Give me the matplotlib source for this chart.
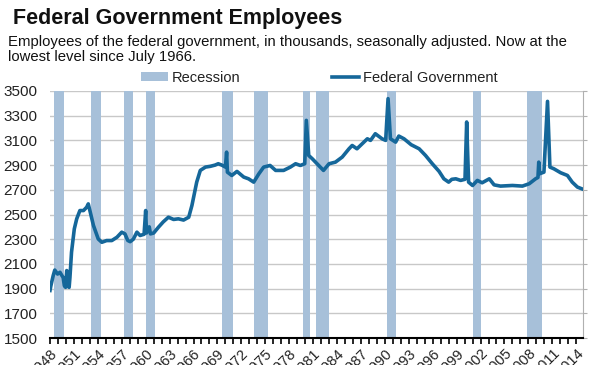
import matplotlib.pyplot as plt
from matplotlib.patches import Patch
from matplotlib.lines import Line2D
from matplotlib.ticker import MultipleLocator

# federal employees, thousands
emp_year = [1948.0, 1948.1, 1948.4, 1948.6, 1948.95, 1949.25, 1949.45, 1949.65, 1949.8, 1949.95,
            1950.1, 1950.2, 1950.4, 1950.5, 1950.7, 1951.05, 1951.35, 1951.75, 1952.2, 1952.6,
            1952.8, 1953.45, 1954.05, 1954.5, 1955.1, 1955.75, 1956.4, 1957.0, 1957.4, 1957.75,
            1958.05, 1958.45, 1958.9, 1959.3, 1959.8, 1960.0, 1960.1, 1960.45, 1960.6, 1961.0,
            1961.6, 1962.2, 1962.85, 1963.5, 1964.1, 1964.75, 1965.4, 1965.8, 1966.4, 1966.85,
            1967.5, 1968.1, 1968.7, 1969.1, 1969.55, 1970.0, 1970.15, 1970.25, 1970.8, 1971.45,
            1972.3, 1972.9, 1973.55, 1974.2, 1974.8, 1975.6, 1976.3, 1977.3, 1978.15, 1978.8,
            1979.4, 1979.95, 1980.15, 1980.45, 1980.9, 1981.5, 1982.3, 1983.0, 1983.8, 1984.65,
            1985.5, 1985.9, 1986.5, 1987.15, 1987.8, 1988.2, 1988.8, 1989.65, 1990.1, 1990.4,
            1990.7, 1991.35, 1991.75, 1992.4, 1993.3, 1994.3, 1995.1, 1995.95, 1996.8, 1997.4,
            1998.0, 1998.4, 1998.9, 1999.5, 2000.05, 2000.26, 2000.5, 2001.0, 2001.6, 2002.2,
            2003.1, 2003.7, 2004.5, 2006.0, 2007.25, 2008.1, 2008.9, 2009.2, 2009.3, 2009.4,
            2009.95, 2010.4, 2010.7, 2011.2, 2012.05, 2012.9, 2013.5, 2014.15, 2014.7]
emp_thousands = [1885, 1920, 2005, 2050, 2018, 2032, 2010, 1990, 1924, 1910,
                 2046, 1920, 1910, 1990, 2195, 2384, 2465, 2532, 2532, 2559,
                 2586, 2411, 2302, 2275, 2289, 2289, 2316, 2357, 2343, 2290,
                 2280, 2300, 2357, 2330, 2340, 2532, 2350, 2400, 2343, 2350,
                 2397, 2440, 2478, 2460, 2465, 2455, 2478, 2573, 2762, 2857,
                 2884, 2890, 2900, 2911, 2900, 2884, 3005, 2843, 2816, 2849,
                 2803, 2789, 2762, 2830, 2884, 2897, 2857, 2857, 2884, 2911,
                 2897, 2911, 3262, 2978, 2951, 2911, 2857, 2911, 2924, 2965,
                 3032, 3059, 3032, 3073, 3113, 3100, 3154, 3113, 3100, 3438,
                 3113, 3086, 3135, 3113, 3065, 3032, 2978, 2911, 2849, 2789,
                 2762, 2785, 2789, 2776, 2785, 3249, 2762, 2735, 2776, 2757,
                 2789, 2740, 2730, 2735, 2730, 2749, 2789, 2800, 2924, 2830,
                 2843, 3416, 2884, 2870, 2838, 2816, 2762, 2722, 2708]

# recession shading
rec_start = [1948.5, 1953.15, 1957.3, 1960.0, 1969.55, 1973.6, 1979.75, 1981.3, 1990.3, 2001.0, 2007.8]
rec_end = [1949.76, 1954.4, 1958.35, 1961.2, 1970.9, 1975.3, 1980.66, 1983.0, 1991.4, 2002.1, 2009.7]

line_col = '#15679a'
rec_col = '#a7c0d9'

plt.rcParams['font.family'] = ['Liberation Sans', 'DejaVu Sans']

fig = plt.figure(figsize=(6.12, 3.65), dpi=100)
ax = fig.add_axes([50 / 612, 27 / 365, 533 / 612, 247 / 365])

for s, e in zip(rec_start, rec_end):
    ax.axvspan(s, e, color=rec_col, lw=0, zorder=1)

ax.plot(emp_year, emp_thousands, color=line_col, lw=2.6, zorder=3, solid_joinstyle='round')

ax.set_ylim(1500, 3500)
ax.set_yticks(range(1500, 3501, 200))
ax.set_xlim(1948, 2014.85)
ax.xaxis.set_major_locator(MultipleLocator(3))
ax.xaxis.set_minor_locator(MultipleLocator(1))
ax.set_xticks(range(1948, 2015, 3))
ax.set_xticklabels([str(y) for y in range(1948, 2015, 3)], rotation=45, ha='right',
                   rotation_mode='anchor', fontsize=10.5, color='#222222')
ax.grid(axis='y', color='#c8c8c8', lw=1, zorder=0)
ax.set_axisbelow(True)

for sp in ['left', 'top']:
    ax.spines[sp].set_visible(False)
ax.spines['right'].set_color('#b0b0b0')
ax.spines['bottom'].set_color('black')
ax.spines['bottom'].set_linewidth(1.5)
ax.spines['bottom'].set_zorder(4)

ax.tick_params(axis='y', left=False, right=True, length=3, color='#b0b0b0',
               labelsize=11, labelcolor='#222222', pad=6)
ax.tick_params(axis='x', which='both', length=4, width=1.2, color='black', direction='out', pad=2)

handles = [Patch(facecolor=rec_col, edgecolor='none'),
           Line2D([], [], color=line_col, lw=2.6)]
ax.legend(handles, ['Recession', 'Federal Government'], ncol=2, loc='center left',
          bbox_to_anchor=(0.171, 1.053), frameon=False, borderpad=0, borderaxespad=0,
          handlelength=1.85, handleheight=0.6, handletextpad=0.25, columnspacing=6.3,
          fontsize=10.5, labelcolor='#222222')

fig.text(13 / 612, 1 - 8 / 365, 'Federal Government Employees', fontsize=15.5,
         fontweight='bold', color='#111111', va='top')
fig.text(8 / 612, 1 - 35 / 365,
         'Employees of the federal government, in thousands, seasonally adjusted. Now at the\n'
         'lowest level since July 1966.', fontsize=10.7, color='#111111', va='top', linespacing=1.05)

fig.savefig('out.png', dpi=100)
